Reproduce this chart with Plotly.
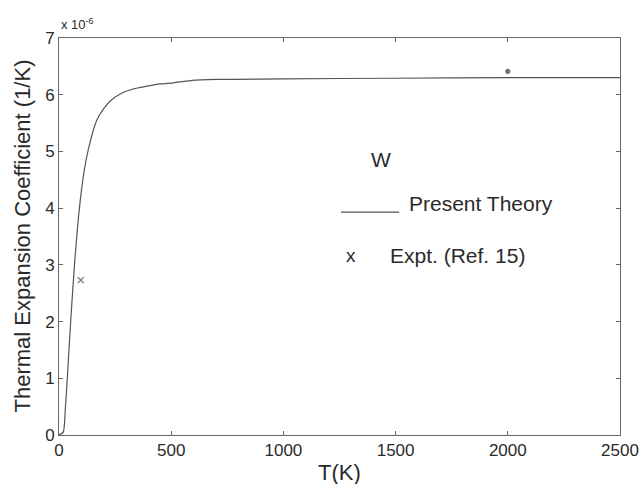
import plotly.graph_objects as go

# Present theory curve (alpha in units of 1e-6 1/K)
T_theory = [0, 19, 28, 37, 52, 69, 91, 110, 131, 168, 200, 235, 281, 330, 392, 450, 511, 586, 700, 795, 1000, 1500, 2000, 2500]
a_theory = [0, 0.05, 0.45, 1.0, 2.0, 3.0, 4.0, 4.6, 5.04, 5.55, 5.76, 5.91, 6.03, 6.10, 6.15, 6.19, 6.21, 6.25, 6.27, 6.27, 6.28, 6.29, 6.30, 6.30]

# Experimental points (Ref. 15)
T_expt = [97, 2000]
a_expt = [2.73, 6.41]

x_ticks = [0, 500, 1000, 1500, 2000, 2500]
y_ticks = [0, 1, 2, 3, 4, 5, 6, 7]

x_title = "T(K)"
y_title = "Thermal Expansion Coefficient (1/K)"

font_fam = "Liberation Sans, Arial, sans-serif"
ink = "#2a2a2a"

fig = go.Figure()
fig.add_trace(go.Scatter(x=T_theory, y=a_theory, mode="lines",
                         line=dict(color="#555555", width=1.2, shape="spline", smoothing=0.6),
                         showlegend=False))
fig.add_trace(go.Scatter(x=T_expt, y=a_expt, mode="markers",
                         marker=dict(symbol=["x-thin", "circle"], size=[6, 4], color="#333333",
                                     line=dict(color="#333333", width=1.2)),
                         showlegend=False))

axis_common = dict(showgrid=False, zeroline=False, showline=True, linecolor="#666666", linewidth=1,
                   mirror="ticks", ticks="inside", ticklen=4, tickcolor="#666666", automargin=False,
                   tickfont=dict(family=font_fam, size=17, color=ink))

fig.update_xaxes(range=[0, 2500], tickvals=x_ticks, ticktext=[str(v) for v in x_ticks], **axis_common)
fig.update_yaxes(range=[0, 7], tickvals=y_ticks, ticktext=[str(v) for v in y_ticks], **axis_common)

# Axis titles
fig.add_annotation(text=x_title, xref="paper", yref="paper", x=0.5, y=0, xanchor="center", yanchor="middle",
                   yshift=-37, showarrow=False, font=dict(family=font_fam, size=22, color=ink))
fig.add_annotation(text=y_title, xref="paper", yref="paper", x=0, y=0.5, xanchor="center", yanchor="middle",
                   xshift=-37, textangle=-90, showarrow=False, font=dict(family=font_fam, size=22, color=ink))

fig.add_annotation(text="x 10<sup>-6</sup>", xref="paper", yref="paper", x=0.0, y=1.0,
                   xanchor="left", yanchor="middle", yshift=14, showarrow=False,
                   font=dict(family=font_fam, size=13, color=ink))

# In-plot legend
fig.add_annotation(text="W", xref="x", yref="y", x=1436, y=4.85, xanchor="center", yanchor="middle",
                   showarrow=False, font=dict(family=font_fam, size=21, color=ink))
fig.add_shape(type="line", xref="x", yref="y", x0=1257, x1=1516, y0=3.93, y1=3.93,
              line=dict(color="#555555", width=1.2))
fig.add_annotation(text="Present Theory", xref="x", yref="y", x=1552, y=4.08, xanchor="left", yanchor="middle",
                   showarrow=False, font=dict(family=font_fam, size=21, color=ink))
fig.add_annotation(text="x", xref="x", yref="y", x=1301, y=3.16, xanchor="center", yanchor="middle",
                   showarrow=False, font=dict(family=font_fam, size=19, color=ink))
fig.add_annotation(text="Expt. (Ref. 15)", xref="x", yref="y", x=1467, y=3.16, xanchor="left", yanchor="middle",
                   showarrow=False, font=dict(family=font_fam, size=21, color=ink))

fig.update_layout(width=640, height=484, paper_bgcolor="white", plot_bgcolor="white",
                  margin=dict(l=59, r=20, t=38, b=49), showlegend=False)

fig.write_html("out.html")
